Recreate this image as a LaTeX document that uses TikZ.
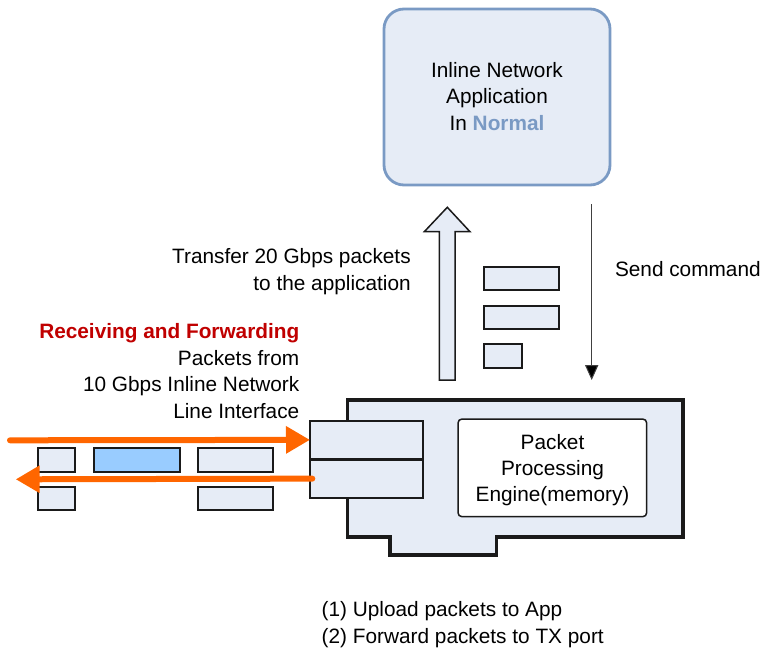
\documentclass[tikz,border=0pt]{standalone}
\usepackage{fontspec}
\setmainfont{Liberation Sans}
\usetikzlibrary{arrows.meta}
\definecolor{lightfill}{RGB}{230,236,246}
\definecolor{appblue}{RGB}{122,154,196}
\definecolor{pktblue}{RGB}{153,204,255}
\definecolor{flow}{RGB}{255,102,0}
\definecolor{darkred}{RGB}{192,0,0}
\definecolor{edge}{RGB}{26,26,26}
\begin{document}
\begin{tikzpicture}[x=1pt,y=-1pt,
  every node/.style={font=\fontsize{20.8}{26.7}\selectfont, inner sep=0pt, outer sep=0pt},
  txt/.style={anchor=base},
  txtr/.style={anchor=base east},
  txtl/.style={anchor=base west},
  pkt/.style={draw=edge, line width=1.8pt, fill=lightfill, minimum height=23.4pt},
  portbox/.style={draw=edge, line width=2pt, fill=lightfill, minimum width=112.7pt, minimum height=38.3pt},
  flowarrow/.style={draw=flow, line width=6pt, line cap=round, -{Triangle[length=24pt,width=26pt]}}
]
\useasboundingbox (0,0) rectangle (763,651);

% application box
\node[draw=appblue, line width=2.8pt, fill=lightfill, rounded corners=20pt,
      minimum width=226pt, minimum height=176pt] (app) at (497,97) {};
\node[txt] (app1) at (497,77.3) {Inline Network};
\node[txt] (app2) at (497,103.6) {Application};
\node[txt] (app3) at (497,130) {In \textbf{\textcolor{appblue}{Normal}}};

% card outline
\draw[draw=edge, line width=3.2pt, fill=lightfill, line join=miter]
  (347.7,400) -- (683,400) -- (683,537) -- (496.7,537) -- (496.7,555)
  -- (390,555) -- (390,537) -- (347.7,537) -- cycle;

% engine
\node[draw=edge, line width=1.5pt, fill=white, rounded corners=4pt,
      minimum width=188.7pt, minimum height=97.7pt] (engine) at (552.35,467.85) {};
\node[txt] (eng1) at (552.5,449) {Packet};
\node[txt] (eng2) at (552.5,475.3) {Processing};
\node[txt] (eng3) at (552.5,501.7) {Engine(memory)};

% port
\node[portbox] (portA) at (366.35,439.85) {};
\node[portbox] (portB) at (366.35,478.65) {};

% left packets
\node[pkt, minimum width=37.6pt] (p1) at (56.5,460) {};
\node[pkt, minimum width=85.7pt, fill=pktblue] (p2) at (137.15,460) {};
\node[pkt, minimum width=75pt] (p3) at (235.8,460) {};
\node[pkt, minimum width=37.6pt] (p4) at (56.5,498.35) {};
\node[pkt, minimum width=75pt] (p5) at (235.8,498.35) {};

% orange flow arrows
\coordinate (inL) at (10,440.3);
\coordinate (outL) at (15.7,479.3);
\draw[flowarrow] (inL) -- (portA.west);
\draw[flowarrow] ([xshift=2.3pt]portB.west) -- (outL);

% right packets
\node[pkt, minimum width=75pt] (q1) at (521.5,278.35) {};
\node[pkt, minimum width=75pt] (q2) at (521.5,317.35) {};
\node[pkt, minimum width=37.7pt] (q3) at (502.85,356) {};

% hollow upload arrow
\draw[draw=edge, line width=1.5pt, fill=lightfill, line join=miter]
  (439.3,380) -- (439.3,231.7) -- (424.3,231.7) -- (447.3,207.3)
  -- (470,231.7) -- (455,231.7) -- (455,380) -- cycle;

% send command arrow
\coordinate (cmdS) at (591.7,204);
\coordinate (cmdE) at (591.7,380);
\draw[draw=black!75, line width=1pt, -{Triangle[length=15pt,width=13.3pt,fill=black]}] (cmdS) -- (cmdE);

% labels
\node[txtr] (tr1) at (410.7,263.3) {Transfer 20 Gbps packets};
\node[txtr] (tr2) at (410.7,290) {to the application};
\node[txtl] (sc) at (615,276.7) {Send command};
\node[txtr, text=darkred] (rf1) at (299.3,338.3) {\textbf{Receiving and Forwarding}};
\node[txtr] (rf2) at (299.3,365) {Packets from};
\node[txtr] (rf3) at (299.3,391.7) {10 Gbps Inline Network};
\node[txtr] (rf4) at (299.3,418.3) {Line Interface};
\node[txtl] (n1) at (321.7,616.7) {(1) Upload packets to App};
\node[txtl] (n2) at (321.7,643.3) {(2) Forward packets to TX port};
\end{tikzpicture}
\end{document}
